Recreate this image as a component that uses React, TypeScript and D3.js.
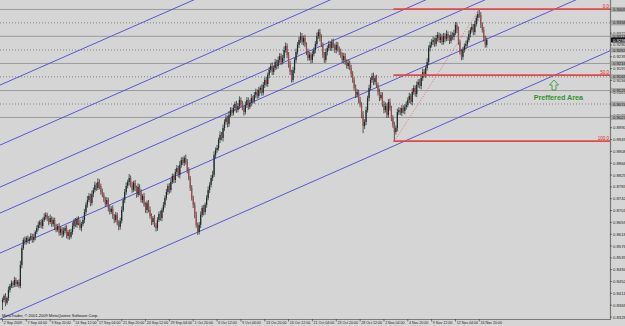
import React from "react";
import * as d3 from "d3";

// AUDUSD H4, prices in pips (x 0.0001)
const FIRST_OPEN = 8380;
const closes = [
  8388, 8402, 8378, 8395,
  8423, 8437, 8448, 8441, 8458, 8444, 8451, 8437,
  8511, 8570,
  8598, 8591, 8605, 8595, 8602, 8612, 8598, 8609,
  8626, 8640, 8651, 8661, 8647, 8668, 8679, 8686, 8672,
  8661, 8675, 8654, 8668, 8644, 8633, 8647,
  8623, 8637, 8616, 8630, 8640, 8612, 8626,
  8609, 8626, 8647, 8665, 8651, 8672, 8658, 8640, 8654, 8668,
  8696, 8721, 8738, 8752, 8728, 8759, 8773, 8791, 8780, 8801, 8787, 8766,
  8756, 8742, 8724, 8738, 8710, 8696, 8707, 8682, 8668, 8686, 8658, 8644, 8665,
  8703, 8738, 8766, 8787, 8801, 8815, 8791, 8773, 8798, 8780, 8756, 8784, 8766, 8738, 8752, 8721, 8703, 8728,
  8703, 8682, 8661, 8675, 8651, 8640, 8668, 8689, 8675, 8703, 8721,
  8745, 8766, 8787, 8773, 8801, 8822, 8808, 8836, 8850, 8826, 8861, 8878, 8868, 8885, 8871, 8843,
  8815, 8780, 8745, 8721, 8686, 8651, 8626,
  8651, 8686, 8710, 8696, 8721, 8745, 8773, 8791, 8815, 8826,
  8896, 8913, 8920, 8948, 8966, 8955, 8990, 9011, 9025, 9004, 9036, 9053, 9043, 9060, 9074, 9053, 9067, 9088, 9074,
  9060, 9046, 9071, 9088, 9064, 9078, 9095, 9085, 9106, 9116,
  9102, 9123, 9130, 9113, 9141, 9158, 9144, 9176, 9193, 9207,
  9186, 9200, 9221, 9207, 9228, 9242, 9221, 9235,
  9263, 9277, 9246, 9211, 9186, 9158,
  9193, 9228, 9256, 9281, 9298, 9312, 9291, 9305, 9281,
  9256, 9235, 9246, 9228, 9249, 9263, 9284,
  9312, 9326, 9305,
  9281, 9246, 9228, 9256, 9270,
  9284, 9270, 9291, 9277, 9263, 9281, 9267,
  9256, 9246, 9228, 9242, 9221, 9207, 9218,
  9200, 9179, 9158,
  9130, 9106, 9116, 9088, 9071,
  9036, 8997, 9011, 9053, 9095,
  9130, 9158, 9172, 9151, 9165,
  9141, 9116, 9095, 9106, 9074, 9053, 9067,
  9036, 9081, 9060, 9025, 9001,
  8976, 8990,
  9046, 9053, 9043, 9060, 9050, 9064, 9071,
  9088, 9102, 9081, 9116, 9130, 9109, 9141, 9151, 9137,
  9165, 9186, 9176,
  9200, 9221, 9270,
  9281, 9291, 9298, 9284,
  9305, 9316, 9298, 9309, 9291, 9312, 9302, 9319, 9305, 9295, 9316, 9309, 9323,
  9351, 9333,
  9291, 9256, 9239,
  9263, 9277, 9284, 9298,
  9319, 9333, 9344, 9326, 9354,
  9375, 9389,
  9386,
  9351, 9333,
  9305, 9281, 9298,
];
const wickUp = [
  8,6,10,5,12,7,9,6,11,8, 7,9,14,10,8,12,6,9,7,10, 8,11,6,9,12,7,10,8,13,9, 7,10,12,6,9,8,11,7,10,9,
  6,12,8,10,7,9,11,13,8,10, 7,9,12,8,10,11,9,14,10,8, 12,9,11,7,13,10,8,12,9,7, 10,8,11,9,12,7,10,8,9,11,
  13,9,10,12,8,14,9,11,7,10, 8,12,9,10,7,11,9,8,10,12, 9,7,11,8,10,9,12,8,10,9, 11,8,10,12,9,7,11,10,8,13,
  9,11,8,12,10,9,7,10,8,9, 11,8,10,12,9,11,8,10,12,9, 10,14,12,9,11,8,13,10,12,9, 11,8,13,10,9,12,8,11,10,13,
  9,11,8,12,10,9,11,14,8,10, 12,9,11,8,13,10,9,12,8,11, 10,13,9,11,8,12,10,9,11,13, 12,9,10,14,8,11,9,12,10,11,
  13,10,8,11,9,12,10,8,11,9, 10,12,9,11,13,8,10,12,9,11, 8,10,12,9,11,10,8,12,9,11, 10,9,12,8,11,10,9,12,10,8,
  11,9,13,10,12,8,11,9,10,12, 9,11,8,12,10,9,11,13,9,10, 12,8,10,11,9,12,10,8,11,9, 10,12,9,11,8,13,10,9,12,10,
  11,9,12,10,8,13,9,11,10,12, 9,11,10,8,12,9,11,10,13,9, 10,12,9,11,10,9,12,8,11,10, 9,11,10,12,9,11,10,12,9,10,
  17,10,9,11,8,9,
];
const wickDn = [
  27,8,12,6,10,9,7,11,8,10, 9,6,8,12,7,10,9,8,11,6, 10,8,12,7,9,11,8,10,6,9, 8,11,7,10,9,12,8,6,10,9,
  11,7,9,8,12,10,6,9,11,8, 10,9,7,12,8,11,9,10,7,12, 9,11,8,10,7,12,9,8,11,10, 8,12,9,7,10,11,8,9,12,10,
  9,7,11,10,8,12,9,10,7,11, 10,8,12,9,11,7,10,12,8,9, 11,9,8,12,10,7,9,11,8,10, 8,10,12,9,7,11,10,8,9,12,
  10,8,11,9,12,8,10,9,11,12, 10,10,9,11,8,12,9,10,8,11, 9,11,8,12,10,9,11,8,12,10, 9,12,10,8,11,9,12,10,8,11,
  10,8,12,9,11,10,8,12,9,10, 11,9,8,12,10,9,11,8,10,12, 9,11,10,8,12,9,10,11,8,10, 9,12,10,11,9,8,12,10,9,11,
  10,9,12,8,11,10,9,12,10,8, 11,9,10,12,8,11,10,9,12,10, 9,11,8,10,12,9,11,10,8,12, 10,9,11,8,12,10,9,11,10,12,
  9,12,25,10,11,9,12,8,10,11, 10,9,12,11,8,10,12,9,11,10, 9,11,10,32,9,12,10,8,11,9, 12,10,9,11,8,12,10,9,11,10,
  9,12,10,8,11,9,10,12,9,11, 10,8,12,9,11,10,9,12,8,10, 11,9,10,12,8,11,10,9,12,10, 9,11,10,8,12,9,11,10,9,12,
  10,11,9,12,10,9,
];

const dateLabels = [
  "2 Sep 2009", "7 Sep 04:00", "9 Sep 20:00", "14 Sep 12:00", "17 Sep 04:00", "21 Sep 20:00",
  "24 Sep 12:00", "29 Sep 04:00", "1 Oct 20:00", "6 Oct 12:00", "9 Oct 04:00", "13 Oct 20:00",
  "16 Oct 12:00", "21 Oct 04:00", "23 Oct 20:00", "28 Oct 12:00", "2 Nov 04:00", "4 Nov 20:00",
  "9 Nov 12:00", "12 Nov 04:00", "16 Nov 20:00",
];
const dateLabelBars = [0, 16, 32, 48, 64, 80, 96, 112, 128, 144, 160, 176, 192, 208, 224, 240, 256, 272, 288, 304, 320];

const priceTicks = [
  0.83285, 0.83699, 0.84113, 0.84527, 0.84941, 0.85355, 0.85769, 0.86183, 0.86597, 0.87011,
  0.87425, 0.87839, 0.88253, 0.88667, 0.89081, 0.89495, 0.89909, 0.90323, 0.90737, 0.91151,
  0.91565, 0.91979, 0.92393, 0.92807, 0.93221, 0.93635, 0.94049,
];

// user horizontal lines (price, pips)
const hLevels = [9405, 9358, 9311, 9263, 9216, 9169, 9121, 9074, 9027];
const hDotted = [false, true, false, true, false, true, false, true, false];

// channel lines: price at bar 0 and at bar 300
const chanBarA = 0;
const chanBarB = 300;
const chanPriceA = [9144, 8934, 8787, 8696, 8556, 8325];
const chanPriceB = [9832, 9622, 9475, 9384, 9244, 9013];

const fibLowBar = 263;
const fibHighBar = 320;
const fibLevels = [0, 50, 100];
const fibNames = ["0.0", "50.0", "100.0"];

const W = 625;
const H = 326;
const plotR = 610;
const plotB = 319;

export default function App() {
  const n = closes.length;
  const opens = closes.map((c, i) => (i === 0 ? FIRST_OPEN : closes[i - 1]));
  const highs = closes.map((c, i) => Math.max(opens[i], c) + (wickUp[i] ?? 8));
  const lows = closes.map((c, i) => Math.min(opens[i], c) - (wickDn[i] ?? 8));

  const x = d3.scaleLinear().domain([0, 325]).range([2.5, 2.5 + 325 * 1.49]);
  const y = d3.scaleLinear().domain([8328.5, 9438]).range([317, 0]);

  const fibHigh = highs[fibHighBar];
  const fibLow = lows[fibLowBar];
  const fibPrice = (lv: number) => fibHigh - (fibHigh - fibLow) * (lv / 100);

  const font = "'Liberation Sans', Arial, sans-serif";
  const last = closes[n - 1];

  return (
    <div style={{ position: "fixed", left: 0, top: 0 }}>
      <svg width={W} height={H} style={{ display: "block", background: "#d5d5d5" }}>
        <defs>
          <clipPath id="plot">
            <rect x={0} y={0} width={plotR} height={plotB} />
          </clipPath>
        </defs>
        <rect x={0} y={0} width={W} height={H} fill="#d5d5d5" />
        <g clipPath="url(#plot)">
          {hLevels.map((p, k) => (
            <line key={"h" + k} x1={0} x2={plotR} y1={y(p)} y2={y(p)}
              stroke={hDotted[k] ? "#6e6e6e" : "#9a9a9a"} strokeWidth={hDotted[k] ? 0.8 : 1}
              strokeDasharray={hDotted[k] ? "1,2" : undefined} />
          ))}
          {chanPriceA.map((pa, k) => {
            const pb = chanPriceB[k];
            const slope = (pb - pa) / (chanBarB - chanBarA);
            const i1 = -20, i2 = 440;
            return (
              <line key={"c" + k} x1={x(i1)} y1={y(pa + slope * (i1 - chanBarA))}
                x2={x(i2)} y2={y(pa + slope * (i2 - chanBarA))} stroke="#4a4ad0" strokeWidth={0.9} />
            );
          })}
          {closes.map((c, i) => {
            const o = opens[i];
            const bull = c >= o;
            const xi = x(i);
            const top = y(Math.max(o, c));
            const bot = y(Math.min(o, c));
            return (
              <g key={"k" + i}>
                <line x1={xi} x2={xi} y1={y(highs[i])} y2={y(lows[i])} stroke="#2c3838" strokeWidth={0.8} />
                <rect x={xi - 0.6} width={1.2} y={top} height={Math.max(0.7, bot - top)}
                  fill={bull ? "#1c2a2a" : "#a84848"} />
              </g>
            );
          })}
          {fibLevels.map((lv, k) => (
            <line key={"f" + k} x1={x(fibLowBar) - 1} x2={plotR} y1={y(fibPrice(lv))} y2={y(fibPrice(lv))}
              stroke="#e24848" strokeWidth={1.6} />
          ))}
          <line x1={x(fibLowBar)} y1={y(fibLow)} x2={x(fibHighBar)} y2={y(fibHigh)}
            stroke="#e06060" strokeWidth={0.8} strokeDasharray="1,1.5" />
        </g>
        {fibLevels.map((lv, k) => (
          <text key={"ft" + k} x={609} y={y(fibPrice(lv)) - 1.5} fontSize={4.5} fill="#d03030"
            textAnchor="end" fontFamily={font}>{fibNames[k]}</text>
        ))}
        {/* Preferred area annotation */}
        <path d="M554,80 L558.5,85 L556,85 L556,90 L552,90 L552,85 L549.5,85 Z"
          fill="none" stroke="#3c9c3c" strokeWidth={0.9} />
        <text x={583} y={100} fontSize={7.2} fill="#2e962e" fontWeight="bold" textAnchor="end"
          fontFamily={font}>Preffered Area</text>
        <text x={2} y={317} fontSize={4} fill="#111" fontFamily={font}>
          MetaTrader, © 2001-2009 MetaQuotes Software Corp.
        </text>
        {/* axes */}
        <line x1={plotR + 0.5} x2={plotR + 0.5} y1={0} y2={plotB + 1} stroke="#7a7a7a" strokeWidth={1.2} />
        <line x1={0} x2={plotR + 1} y1={plotB + 0.5} y2={plotB + 0.5} stroke="#7a7a7a" strokeWidth={1.2} />
        {priceTicks.map((p, k) => {
          const yy = y(p * 10000);
          return (
            <g key={"pt" + k}>
              <line x1={plotR} x2={plotR + 2} y1={yy} y2={yy} stroke="#333" strokeWidth={0.6} />
              <text x={613} y={yy + 1.5} fontSize={4.2} fill="#222" fontFamily={font}>{p.toFixed(5)}</text>
            </g>
          );
        })}
        {hLevels.map((p, k) => (
          <g key={"hl" + k}>
            <rect x={611} y={y(p) - 2.5} width={14} height={5} fill="#a6a6a6" />
            <text x={613} y={y(p) + 1.5} fontSize={4.2} fill="#222" fontFamily={font}>{(p / 10000).toFixed(5)}</text>
          </g>
        ))}
        <rect x={611} y={y(last) - 2.5} width={14} height={5} fill="#111" />
        <text x={613} y={y(last) + 1.5} fontSize={4.2} fill="#fff" fontFamily={font}>{(last / 10000).toFixed(5)}</text>
        {dateLabels.map((d, k) => {
          const xx = x(dateLabelBars[k]);
          return (
            <g key={"d" + k}>
              <line x1={xx} x2={xx} y1={plotB} y2={plotB + 2.5} stroke="#333" strokeWidth={0.6} />
              <text x={xx + 1.2} y={324} fontSize={3.6} fill="#222" fontFamily={font}>{d}</text>
            </g>
          );
        })}
      </svg>
    </div>
  );
}
